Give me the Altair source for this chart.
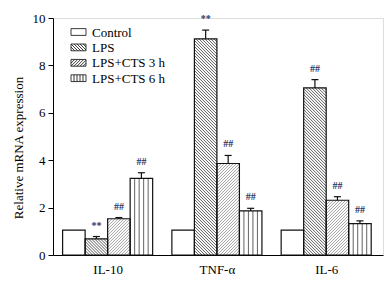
import altair as alt
import pandas as pd

# ---- data ----
genes = ["IL-10", "TNF-α", "IL-6"]
series = ["Control", "LPS", "LPS+CTS 3 h", "LPS+CTS 6 h"]
control = [1.05, 1.05, 1.05]
control_err = [0.0, 0.0, 0.0]
lps = [0.68, 9.12, 7.05]
lps_err = [0.10, 0.37, 0.35]
cts3 = [1.53, 3.86, 2.31]
cts3_err = [0.05, 0.34, 0.15]
cts6 = [3.23, 1.86, 1.32]
cts6_err = [0.24, 0.11, 0.12]
marks_lps = ["**", "**", "##"]
marks_cts3 = ["##", "##", "##"]
marks_cts6 = ["##", "##", "##"]

# ---- layout / style ----
W, H = 330, 237
X_DOM = [-0.5, 2.52]
Y_DOM = [0, 10]
SX = W / (X_DOM[1] - X_DOM[0])
SY = H / (Y_DOM[1] - Y_DOM[0])
BW = 0.206
FONT = "Liberation Serif"
ANN_COLOR = "#2b3566"
LEG_BOX_X = 25.5      # legend symbol centre (px from plot left)
LEG_TEXT_X = 39       # legend label start (px from plot left)
LEG_Y0 = 14           # first legend row (px from plot top)
LEG_DY = 15.4         # legend row spacing (px)

values = [control, lps, cts3, cts6]
errs = [control_err, lps_err, cts3_err, cts6_err]
anns = [None, marks_lps, marks_cts3, marks_cts6]
hatch = [None, "back", "fwd", "vert"]
hatch_color = {"back": "#333333", "fwd": "#8a8a8a", "vert": "#3a3a3a"}

bars, rules, errs_rows, caps, texts = [], [], [], [], []
for k, s in enumerate(series):
    for g, gene in enumerate(genes):
        v = values[k][g]
        e = errs[k][g]
        xa = g + (k - 2) * BW
        xb = xa + BW
        bars.append(dict(series=s, gene=gene, x=xa, x2=xb, y=0, y2=v))
        if e > 0:
            xc = (xa + xb) / 2
            errs_rows.append(dict(x=xc, y=v, y2=v + e))
            caps.append(dict(x=xc - 3.5 / SX, x2=xc + 3.5 / SX, y=v + e))
        if anns[k] is not None:
            texts.append(dict(x=(xa + xb) / 2, y=v + e, t=anns[k][g]))
        hp = v * SY
        wp = BW * SX
        kind = hatch[k]
        if kind == "vert":
            for j in range(1, 5):
                xx = xa + j * BW / 5
                rules.append(dict(kind=kind, x=xx, x2=xx, y=0, y2=v))
        elif kind in ("back", "fwd"):
            step = 3.0
            if kind == "fwd":
                c = -hp + step / 2
                while c < wp:
                    u0, u1 = max(0, c), min(wp, c + hp)
                    if u1 > u0:
                        rules.append(dict(kind=kind, x=xa + u0 / SX, x2=xa + u1 / SX,
                                          y=(u0 - c) / SY, y2=(u1 - c) / SY))
                    c += step
            else:
                c = step / 2
                while c < wp + hp:
                    u0, u1 = max(0, c - hp), min(wp, c)
                    if u1 > u0:
                        rules.append(dict(kind=kind, x=xa + u0 / SX, x2=xa + u1 / SX,
                                          y=(c - u0) / SY, y2=(c - u1) / SY))
                    c += step

bars_df = pd.DataFrame(bars)
rules_df = pd.DataFrame(rules)
err_df = pd.DataFrame(errs_rows)
cap_df = pd.DataFrame(caps)
text_df = pd.DataFrame(texts)

xs = alt.Scale(domain=X_DOM, nice=False, zero=False)
ys = alt.Scale(domain=Y_DOM, nice=False)

label_expr = "[" + ",".join("'" + g + "'" for g in genes) + "][datum.value]"

xaxis = alt.Axis(values=list(range(len(genes))), labelExpr=label_expr, ticks=False,
                 grid=False, title=None, labelFont=FONT, labelFontSize=13,
                 labelFontWeight="normal",
                 labelColor="black", labelPadding=8, domainColor="black")
yaxis = alt.Axis(values=[0, 2, 4, 6, 8, 10], grid=False, tickSize=5, tickColor="black",
                 domainColor="black", labelFont=FONT, labelFontSize=13, labelColor="black",
                 labelFontWeight="normal",
                 labelPadding=3, title="Relative mRNA expression", titleFont=FONT,
                 titleFontSize=13, titleFontWeight="normal", titleColor="black",
                 titleX=-28, titleY=129.5)

base_fill = alt.Chart(bars_df).mark_rect(fill="white", stroke=None).encode(
    x=alt.X("x:Q", scale=xs, axis=xaxis), x2="x2:Q",
    y=alt.Y("y:Q", scale=ys, axis=yaxis), y2="y2:Q")

hatch_layer = alt.Chart(rules_df).mark_rule(strokeWidth=0.8).encode(
    x=alt.X("x:Q", scale=xs), x2="x2:Q",
    y=alt.Y("y:Q", scale=ys), y2="y2:Q",
    color=alt.Color("kind:N", scale=alt.Scale(domain=list(hatch_color.keys()),
                                              range=list(hatch_color.values())), legend=None))

outline = alt.Chart(bars_df).mark_rect(fill=None, stroke="#111", strokeWidth=1.2).encode(
    x=alt.X("x:Q", scale=xs), x2="x2:Q", y=alt.Y("y:Q", scale=ys), y2="y2:Q")

err_layer = alt.Chart(err_df).mark_rule(color="#111", strokeWidth=1.2).encode(
    x=alt.X("x:Q", scale=xs), y=alt.Y("y:Q", scale=ys), y2="y2:Q")
cap_layer = alt.Chart(cap_df).mark_rule(color="#111", strokeWidth=1.2).encode(
    x=alt.X("x:Q", scale=xs), x2="x2:Q", y=alt.Y("y:Q", scale=ys))

text_layer = alt.Chart(text_df).mark_text(font=FONT, fontSize=10, fontWeight="bold",
                                          color=ANN_COLOR, baseline="middle", dy=-11).encode(
    x=alt.X("x:Q", scale=xs), y=alt.Y("y:Q", scale=ys), text="t:N")


# legend symbols (custom paths with hatching)
def box_path(kind):
    p = "M-1,-0.45H1V0.45H-1Z"
    step = 0.4
    if kind == "back":
        a = -2 + step / 2
        while a < 1:
            x0, y0 = a, -0.45
            x1, y1 = a + 0.9, 0.45
            if x0 < -1:
                y0 += (-1 - x0); x0 = -1
            if x1 > 1:
                y1 -= (x1 - 1); x1 = 1
            if x1 > x0:
                p += f"M{x0:.3f},{y0:.3f}L{x1:.3f},{y1:.3f}"
            a += step
    elif kind == "fwd":
        a = -2 + step / 2
        while a < 1:
            x0, y0 = a, 0.45
            x1, y1 = a + 0.9, -0.45
            if x0 < -1:
                y0 -= (-1 - x0); x0 = -1
            if x1 > 1:
                y1 += (x1 - 1); x1 = 1
            if x1 > x0:
                p += f"M{x0:.3f},{y0:.3f}L{x1:.3f},{y1:.3f}"
            a += step
    elif kind == "vert":
        for j in range(1, 5):
            xx = -1 + j * 0.4
            p += f"M{xx:.3f},-0.45L{xx:.3f},0.45"
    return p


leg_df = pd.DataFrame(dict(series=series))
legend_layers = []
for i, s in enumerate(series):
    src = alt.Chart(leg_df).transform_filter(alt.datum.series == s)
    legend_layers.append(
        src.mark_point(shape=box_path(hatch[i]), size=225, filled=True, fill="white",
                       stroke="#222", strokeWidth=0.9, opacity=1).encode(
            x=alt.value(LEG_BOX_X), y=alt.value(LEG_Y0 + LEG_DY * i)))
    legend_layers.append(
        src.mark_text(font=FONT, fontSize=13, color="black", align="left",
                      baseline="middle").encode(
            x=alt.value(LEG_TEXT_X), y=alt.value(LEG_Y0 + LEG_DY * i + 0.5),
            text="series:N"))

chart = alt.layer(base_fill, hatch_layer, outline, err_layer, cap_layer, text_layer,
                  *legend_layers).properties(
    width=W, height=H,
    autosize=alt.AutoSizeParams(type="none"),
    padding={"left": 53, "top": 18, "right": 3, "bottom": 26},
).configure_view(stroke=None).configure(background="white")

chart.save("out.html", embed_options={"renderer": "svg", "actions": False})
